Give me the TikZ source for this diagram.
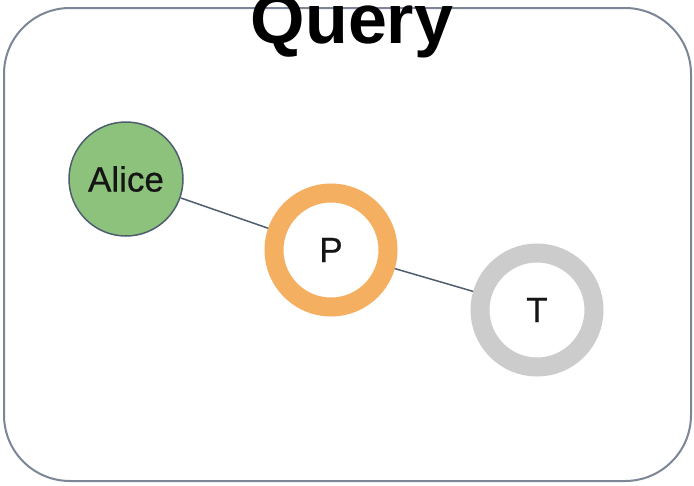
\documentclass[tikz,border=0pt]{standalone}
\usepackage{fontspec}
\setmainfont{Liberation Sans}
\newfontfamily\labelfont[FakeBold=0.6]{Liberation Sans}
\definecolor{framegray}{HTML}{7C8696}
\definecolor{edgegray}{HTML}{4F5E6E}
\definecolor{alicegreen}{HTML}{8CC27B}
\definecolor{ringorange}{HTML}{F5AF60}
\definecolor{ringgray}{HTML}{CCCCCC}
\definecolor{labelink}{HTML}{151515}
\tikzset{
  person/.style={circle, minimum size=114pt, inner sep=0pt, draw=edgegray,
    line width=1.5pt, fill=alicegreen, font=\labelfont\fontsize{35}{40}\selectfont, text=labelink},
  ring/.style={circle, minimum size=114pt, inner sep=0pt, line width=19pt,
    fill=white, font=\labelfont\fontsize{35}{40}\selectfont, text=labelink},
  link/.style={draw=edgegray, line width=1.5pt},
}
\begin{document}
\begin{tikzpicture}[x=1pt,y=-1pt]
  \useasboundingbox (0,0) rectangle (694,485);
  \fill[white] (0,0) rectangle (694,485);
  % outer frame
  \draw[framegray, line width=2pt, rounded corners=66pt] (4,8) rectangle (691,481);
  % title
  \node[anchor=base, inner sep=0pt, font=\fontsize{70}{80}\selectfont\bfseries] (title) at (352,43) {Query};
  % nodes
  \node[person] (alice) at (126,179) {Alice};
  \node[ring, draw=ringorange] (p) at (331,250) {P};
  \node[ring, draw=ringgray] (t) at (537,310) {T};
  % connectors
  \draw[link] (alice) -- (p);
  \draw[link] (p) -- (t);
\end{tikzpicture}
\end{document}
